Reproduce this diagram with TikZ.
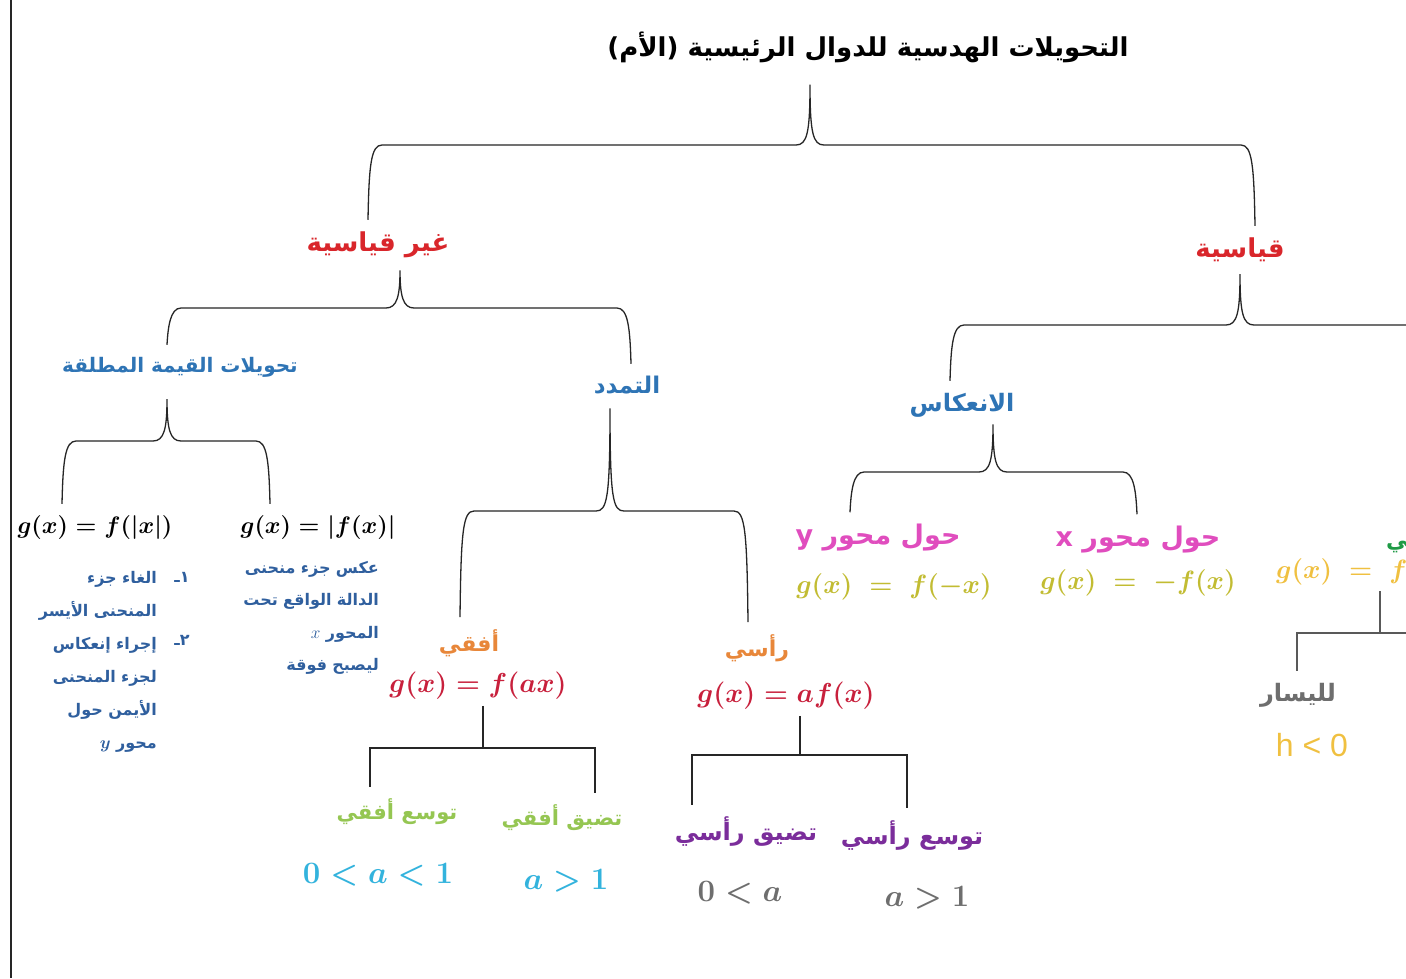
\documentclass[tikz,border=0pt]{standalone}
\usepackage{amsmath}
\usepackage{graphicx}
\usepackage{fontspec}
\usetikzlibrary{calc}
\TeXXeTstate=1
\newfontfamily\arabicfont[Script=Arabic]{DejaVu Sans}
\newfontfamily\arialfont{Liberation Sans}

\definecolor{redcat}{HTML}{D9262B}
\definecolor{bluecat}{HTML}{2E74B5}
\definecolor{listblue}{HTML}{2F5F9E}
\definecolor{orng}{HTML}{E8873A}
\definecolor{crim}{HTML}{C8203C}
\definecolor{lgreen}{HTML}{95C652}
\definecolor{cyanv}{HTML}{33B3DD}
\definecolor{purp}{HTML}{7B2D9B}
\definecolor{grayv}{HTML}{6E6E6E}
\definecolor{pinkv}{HTML}{E04DBE}
\definecolor{olivev}{HTML}{C2BC32}
\definecolor{yell}{HTML}{F0C040}
\definecolor{greenv}{HTML}{1E9A45}

% curly brace: [gap] parent, left end, right end; bar at (#2-l) (#2-m) (#2-r)
\newcommand\curly[4][10pt]{%
  \draw[brace] let \p1=(#2-l), \p2=(#2-m), \p3=(#2-r), \p4=(#2.south),
    \p5=(#3), \p6=(#4) in
    (\x1,\y5+10pt) .. controls (\x1+1pt,\y1-20pt) and (\x1+3pt,\y1) .. (\x1+14pt,\y1)
    -- (\x2-14pt,\y2) .. controls (\x2-3pt,\y2) and (\x2,\y2+12pt) .. (\x2,\y4-#1)
    .. controls (\x2,\y2+12pt) and (\x2+3pt,\y2) .. (\x2+14pt,\y2)
    -- (\x3-14pt,\y3) .. controls (\x3-3pt,\y3) and (\x3-1pt,\y3-20pt) .. (\x3,\y6+10pt);}
% square bracket
\newcommand\squarebr[4][bracket]{%
  \draw[#1] let \p1=(#2-l), \p2=(#2-m), \p3=(#2-r), \p4=(#2.south),
    \p5=(#3), \p6=(#4) in
    (\x2,\y4-4pt) -- (\x2,\y2)
    (\x1,\y5+10pt) |- (\x3,\y3) -- (\x3,\y6+10pt);}

\begin{document}
\begin{tikzpicture}[x=1pt,y=-1pt,
  ar/.style={font=\arabicfont\bfseries\fontsize{#1}{#1}\selectfont, inner sep=2pt},
  ar/.default=22,
  mth/.style={font=\fontsize{24.88}{24.88}\selectfont\boldmath, inner sep=2pt},
  brace/.style={black!85, line width=1.3pt},
  bracket/.style={black!85, line width=2.4pt}]
\fill[white] (0,0) rectangle (1406,978);
\clip (0,0) rectangle (1406,978);
\draw[black!85, line width=2pt] (11,0) -- (11,978);

% level 0 and 1
\node[ar=26] (title) at (868,47) {\beginR التحويلات الهدسية للدوال الرئيسية (الأم)\endR};
\node[ar=26, text=redcat] (nongeo) at (378,245) {\beginR غير قياسية\endR};
\node[ar=26, text=redcat] (geo) at (1240,250) {\beginR قياسية\endR};

% level 2
\node[ar=20, text=bluecat] (absv) at (180,367) {\beginR تحويلات القيمة المطلقة\endR};
\node[ar=23, text=bluecat] (dil) at (627,385) {\beginR التمدد\endR};
\node[ar=24, text=bluecat] (refl) at (962,405) {\beginR الانعكاس\endR};
\node[ar=22, text=greenv, anchor=west] (tr) at (1384,539) {\beginR انسحاب أفقي\endR};

% absolute value
\node[mth] (fabsx) at (95,528) {\scalebox{0.96}{$g(x) = f(|x|)$}};
\node[mth] (absfx) at (318,528) {\scalebox{0.96}{$g(x) = |f(x)|$}};
\node[text=listblue, anchor=north east, align=right, text width=160pt, inner sep=0pt,
  font=\arabicfont\bfseries\fontsize{16}{33}\selectfont] (lst1) at (157,571)
  {\beginR الغاء جزء\endR\\ \beginR المنحنى الأيسر\endR\\ \beginR إجراء إنعكاس\endR\\
   \beginR لجزء المنحنى\endR\\ \beginR الأيمن حول\endR\\ \beginR محور $\boldsymbol{y}$\endR};
\node[text=listblue, font=\arabicfont\bfseries\fontsize{16}{16}\selectfont] (n1) at (182,577) {\hbox{ـ}\hbox{١}};
\node[text=listblue, font=\arabicfont\bfseries\fontsize{16}{16}\selectfont] (n2) at (182,640) {\hbox{ـ}\hbox{٢}};
\node[text=listblue, anchor=north east, align=right, text width=180pt, inner sep=0pt,
  font=\arabicfont\bfseries\fontsize{16}{32.5}\selectfont] (lst2) at (379,561)
  {\beginR عكس جزء منحنى\endR\\ \beginR الدالة الواقع تحت\endR\\
   \beginR المحور $x$\endR\\ \beginR ليصبح فوقة\endR};

% dilation
\node[ar=22, text=orng] (hor) at (469,643) {\beginR أفقي\endR};
\node[mth, text=crim] (fax) at (478,686) {\scalebox{1.1}{$g(x) = f(ax)$}};
\node[ar=22, text=orng] (ver) at (757,648) {\beginR رأسي\endR};
\node[mth, text=crim] (afx) at (786,696) {\scalebox{1.1}{$g(x) = af(x)$}};
\node[ar=21, text=lgreen] (hs) at (397,812) {\beginR توسع أفقي\endR};
\node[ar=21, text=lgreen] (hc) at (562,818) {\beginR تضيق أفقي\endR};
\node[mth, text=cyanv] (hsv) at (378,875) {\scalebox{1.25}{$0 < a < 1$}};
\node[mth, text=cyanv] (hcv) at (566,881) {\scalebox{1.25}{$a > 1$}};
\node[ar=24, text=purp] (vc) at (746,832) {\beginR تضيق رأسي\endR};
\node[ar=24, text=purp] (vs) at (912,835) {\beginR توسع رأسي\endR};
\node[mth, text=grayv] (vcv) at (740,893) {\scalebox{1.25}{$0 < a$}};
\node[mth, text=grayv] (vsv) at (927,898) {\scalebox{1.25}{$a > 1$}};

% reflection
\node[ar=27, text=pinkv] (ry) at (878,538) {\beginR حول محور y\endR};
\node[ar=27, text=pinkv] (rx) at (1138,540) {\beginR حول محور x\endR};
\node[mth, text=olivev] (fmx) at (894,587) {\scalebox{1.065}{$g(x) \;=\; f(-x)$}};
\node[mth, text=olivev] (mfx) at (1138,583) {\scalebox{1.065}{$g(x) \;=\; -f(x)$}};

% translation
\node[mth, text=yell, anchor=west] (fxh) at (1274,572) {\scalebox{1.065}{$g(x) \;=\; f(x-h)$}};
\node[ar=24, text=grayv] (left) at (1298,695) {\beginR لليسار\endR};
\node[font=\arialfont\fontsize{32}{32}\selectfont, text=yell] (hneg) at (1312,745) {h < 0};

% bars
\coordinate (title-l) at (368,145); \coordinate (title-m) at (810,145); \coordinate (title-r) at (1255,145);
\coordinate (nongeo-l) at (167,308); \coordinate (nongeo-m) at (400,308); \coordinate (nongeo-r) at (631,308);
\coordinate (geo-l) at (950,325); \coordinate (geo-m) at (1240,325); \coordinate (geo-r) at (1470,325);
\coordinate (absv-l) at (62,441); \coordinate (absv-m) at (167,441); \coordinate (absv-r) at (270,441);
\coordinate (dil-l) at (460,511); \coordinate (dil-m) at (610,511); \coordinate (dil-r) at (748,511);
\coordinate (refl-l) at (850,472); \coordinate (refl-m) at (993,472); \coordinate (refl-r) at (1137,472);
\coordinate (fax-l) at (370,748); \coordinate (fax-m) at (483,748); \coordinate (fax-r) at (595,748);
\coordinate (afx-l) at (692,755); \coordinate (afx-m) at (800,755); \coordinate (afx-r) at (907,755);
\coordinate (fxh-l) at (1297,633); \coordinate (fxh-m) at (1380,633); \coordinate (fxh-r) at (1470,633);
\coordinate (rightend) at (1470,690);

\curly[20pt]{title}{nongeo.north}{geo.north}
\curly{nongeo}{absv.north}{dil.north}
\curly{geo}{refl.north}{tr.north}
\curly[20pt]{absv}{fabsx.north}{absfx.north}
\curly[12pt]{dil}{hor.north}{ver.north}
\curly[5pt]{refl}{ry.north}{rx.north}
\squarebr{fax}{hs.north}{hc.north}
\squarebr{afx}{vc.north}{vs.north}
\squarebr[{black!65, line width=2pt}]{fxh}{left.north}{rightend}
\end{tikzpicture}
\end{document}
